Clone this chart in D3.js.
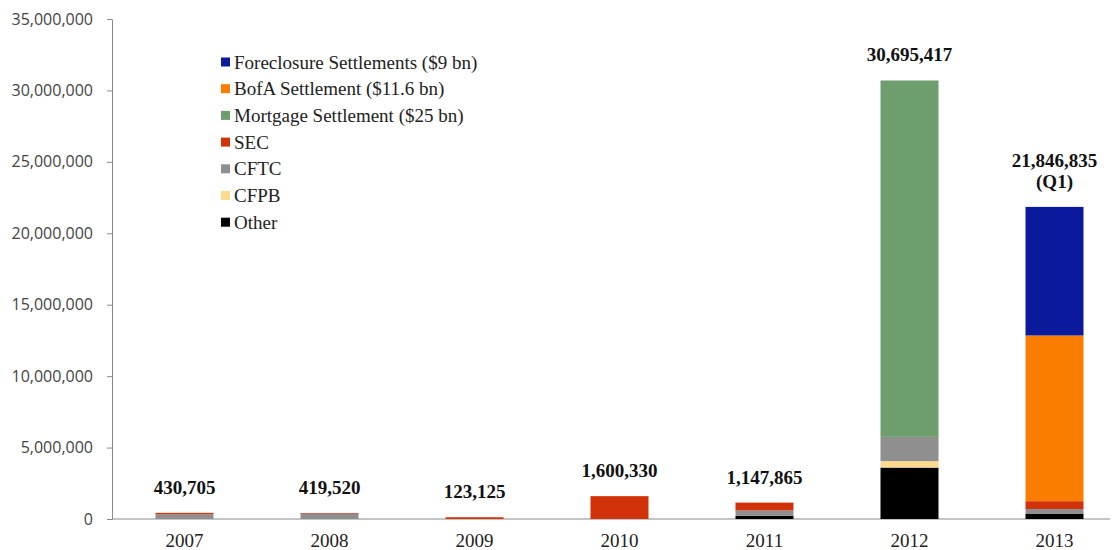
<!DOCTYPE html>
<html>
<head>
<meta charset="utf-8">
<script src="https://cdn.jsdelivr.net/npm/d3@7"></script>
<style>
  body { margin: 0; background: #fff; }
  svg { display: block; font-family: "Liberation Serif", "Times New Roman", serif; }
</style>
</head>
<body>
<svg id="chart"></svg>
<script>
// Chart size
const width = 1114;
const height = 550;

// Years on the x axis
const years = ["2007", "2008", "2009", "2010", "2011", "2012", "2013"];

// Series, stacked bottom to top
const seriesNames = ["Other", "CFPB", "CFTC", "SEC", "Mortgage", "BofA", "Foreclosure"];
const other       = [0,      0,      0,      0,       220000,  3600000,  350000];
const cfpb        = [0,      0,      0,      0,       0,       450000,   0];
const cftc        = [330705, 369520, 0,      0,       380000,  1700000,  350000];
const sec         = [100000, 50000,  123125, 1600330, 547865,  0,        546835];
const mortgage    = [0,      0,      0,      0,       0,       24945417, 0];
const bofa        = [0,      0,      0,      0,       0,       0,        11600000];
const foreclosure = [0,      0,      0,      0,       0,       0,        9000000];

// Totals shown above each bar
const totalLabels = [["430,705"], ["419,520"], ["123,125"], ["1,600,330"], ["1,147,865"],
                     ["30,695,417"], ["21,846,835", "(Q1)"]];

// Legend entries (top to bottom)
const legendLabels = ["Foreclosure Settlements ($9 bn)", "BofA Settlement ($11.6 bn)",
                      "Mortgage Settlement ($25 bn)", "SEC", "CFTC", "CFPB", "Other"];
const legendKeys = ["Foreclosure", "BofA", "Mortgage", "SEC", "CFTC", "CFPB", "Other"];

// Y axis ticks
const yTicks = [0, 5000000, 10000000, 15000000, 20000000, 25000000, 30000000, 35000000];

const colors = {
    Other: "#000000",
    CFPB: "#fddb8e",
    CFTC: "#8f8f8f",
    SEC: "#d2320a",
    Mortgage: "#6e9e6e",
    BofA: "#fa7d00",
    Foreclosure: "#0b1a9c"
};

// Build rows for d3.stack
const seriesArrays = [other, cfpb, cftc, sec, mortgage, bofa, foreclosure];
const rows = years.map((y, i) => {
    const row = { year: y };
    seriesNames.forEach((s, k) => { row[s] = seriesArrays[k][i]; });
    return row;
});
const totals = rows.map(r => d3.sum(seriesNames, s => r[s]));

const svg = d3.select("#chart")
    .attr("width", width)
    .attr("height", height);

const x = d3.scaleBand()
    .domain(years)
    .range([112, 1127]);

const y = d3.scaleLinear()
    .domain([0, 35000000])
    .range([519, 19]);

const barWidth = x.bandwidth() * 0.4;

// Y axis
const yAxis = svg.append("g")
    .attr("transform", "translate(112,0)")
    .call(d3.axisLeft(y).tickValues(yTicks).tickFormat(d3.format(",")).tickSize(5).tickSizeOuter(0).tickPadding(14));
yAxis.select(".domain").attr("stroke", "#8a8a8a");
yAxis.selectAll(".tick line").attr("stroke", "#8a8a8a");
yAxis.selectAll(".tick text")
    .attr("font-size", 16)
    .attr("font-family", "Open Sans")
    .attr("fill", "#444");

// X axis
const xAxis = svg.append("g")
    .attr("transform", "translate(0,519)")
    .call(d3.axisBottom(x).tickSize(0).tickPadding(15));
xAxis.select(".domain").remove();
xAxis.selectAll(".tick text")
    .attr("font-size", 19)
    .attr("font-family", "Liberation Serif")
    .attr("fill", "#222");
svg.append("line")
    .attr("x1", 112).attr("x2", 1110)
    .attr("y1", 519).attr("y2", 519)
    .attr("stroke", "#8a8a8a");

// Stacked bars
const stacked = d3.stack().keys(seriesNames)(rows);
svg.append("g")
    .selectAll("g")
    .data(stacked)
    .join("g")
    .attr("fill", d => colors[d.key])
    .selectAll("rect")
    .data(d => d)
    .join("rect")
    .attr("x", d => x(d.data.year) + (x.bandwidth() - barWidth) / 2)
    .attr("y", d => y(d[1]))
    .attr("width", barWidth)
    .attr("height", d => y(d[0]) - y(d[1]));

// Total labels
const labelGroup = svg.append("g");
years.forEach((yr, i) => {
    const lines = totalLabels[i];
    const cx = x(yr) + x.bandwidth() / 2;
    const base = y(totals[i]) - 19;
    lines.forEach((t, j) => {
        labelGroup.append("text")
            .attr("x", cx)
            .attr("y", base - (lines.length - 1 - j) * 21)
            .attr("text-anchor", "middle")
            .attr("font-family", "Liberation Serif")
            .attr("font-size", 19)
            .attr("font-weight", "bold")
            .attr("fill", "#111")
            .text(t);
    });
});

// Legend
const legend = svg.append("g").attr("transform", "translate(221,62)");
legendLabels.forEach((lab, i) => {
    const g = legend.append("g").attr("transform", `translate(0,${i * 26.7})`);
    g.append("rect")
        .attr("x", 0).attr("y", -4.5)
        .attr("width", 9).attr("height", 9)
        .attr("fill", colors[legendKeys[i]]);
    g.append("text")
        .attr("x", 13)
        .attr("y", 0)
        .attr("dy", "0.35em")
        .attr("font-family", "Liberation Serif")
        .attr("font-size", 19)
        .attr("fill", "#222")
        .text(lab);
});
</script>
</body>
</html>
